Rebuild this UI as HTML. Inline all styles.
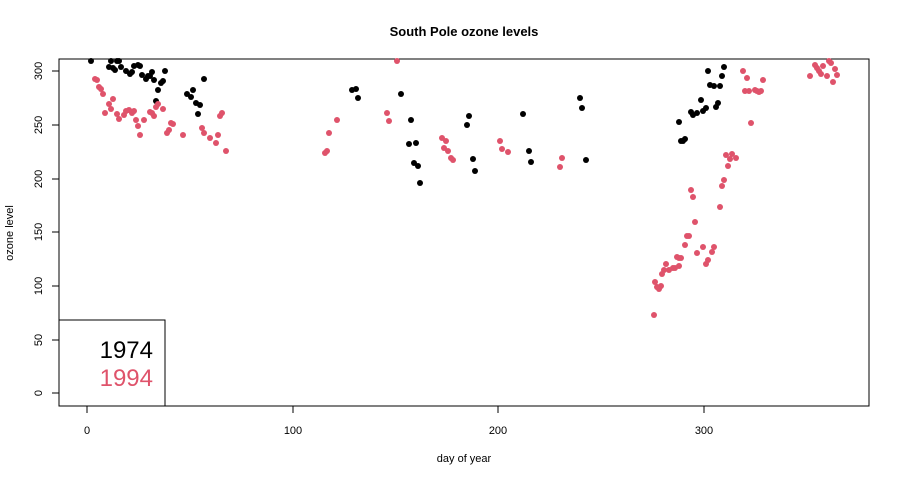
<!DOCTYPE html>
<html><head><style>body{margin:0;background:#fff}svg{display:block;font-family:"Liberation Sans",Arial,sans-serif}</style></head><body>
<svg width="900" height="480" xmlns="http://www.w3.org/2000/svg">
<text x="464" y="36" font-size="13" font-weight="bold" text-anchor="middle">South Pole ozone levels</text>
<rect x="59" y="59" width="810" height="347" fill="none" stroke="#000"/>
<g stroke="#000">
<line x1="87" y1="406" x2="87" y2="413"/><line x1="293" y1="406" x2="293" y2="413"/><line x1="498" y1="406" x2="498" y2="413"/><line x1="704" y1="406" x2="704" y2="413"/>
<line x1="52" y1="393" x2="59" y2="393"/><line x1="52" y1="340" x2="59" y2="340"/><line x1="52" y1="286" x2="59" y2="286"/><line x1="52" y1="232" x2="59" y2="232"/><line x1="52" y1="179" x2="59" y2="179"/><line x1="52" y1="125" x2="59" y2="125"/><line x1="52" y1="71" x2="59" y2="71"/>
</g>
<g font-size="11" text-anchor="middle">
<text x="87" y="434">0</text><text x="293" y="434">100</text><text x="498" y="434">200</text><text x="704" y="434">300</text>
<g transform="translate(42,393) rotate(-90)"><text>0</text></g>
<g transform="translate(42,340) rotate(-90)"><text>50</text></g>
<g transform="translate(42,286) rotate(-90)"><text>100</text></g>
<g transform="translate(42,232) rotate(-90)"><text>150</text></g>
<g transform="translate(42,179) rotate(-90)"><text>200</text></g>
<g transform="translate(42,125) rotate(-90)"><text>250</text></g>
<g transform="translate(42,71) rotate(-90)"><text>300</text></g>
<text x="464" y="462">day of year</text>
<g transform="translate(13,233) rotate(-90)"><text>ozone level</text></g>
</g>
<rect x="59" y="320" width="106" height="86" fill="#fff" stroke="#000"/>
<text x="153" y="358" font-size="24" text-anchor="end">1974</text>
<text x="153" y="386" font-size="24" text-anchor="end" fill="#DF536B">1994</text>
<g fill="#000">
<circle cx="91" cy="61" r="3"/><circle cx="111" cy="61" r="3"/><circle cx="117" cy="61" r="3"/><circle cx="119" cy="61" r="3"/><circle cx="109" cy="67" r="3"/><circle cx="113" cy="68" r="3"/><circle cx="115" cy="70" r="3"/><circle cx="121" cy="67" r="3"/><circle cx="126" cy="71" r="3"/><circle cx="130" cy="74" r="3"/><circle cx="132" cy="72" r="3"/><circle cx="134" cy="66" r="3"/><circle cx="138" cy="65" r="3"/><circle cx="140" cy="66" r="3"/><circle cx="142" cy="75" r="3"/><circle cx="146" cy="79" r="3"/><circle cx="148" cy="76" r="3"/><circle cx="150" cy="76" r="3"/><circle cx="152" cy="72" r="3"/><circle cx="154" cy="80" r="3"/><circle cx="165" cy="71" r="3"/><circle cx="161" cy="83" r="3"/><circle cx="163" cy="81" r="3"/><circle cx="158" cy="90" r="3"/><circle cx="156" cy="101" r="3"/><circle cx="204" cy="79" r="3"/><circle cx="193" cy="90" r="3"/><circle cx="187" cy="94" r="3"/><circle cx="191" cy="97" r="3"/><circle cx="196" cy="103" r="3"/><circle cx="200" cy="105" r="3"/><circle cx="198" cy="114" r="3"/>
<circle cx="352" cy="90" r="3"/><circle cx="356" cy="89" r="3"/><circle cx="358" cy="98" r="3"/><circle cx="401" cy="94" r="3"/><circle cx="411" cy="120" r="3"/><circle cx="409" cy="144" r="3"/><circle cx="416" cy="143" r="3"/><circle cx="414" cy="163" r="3"/><circle cx="418" cy="166" r="3"/><circle cx="420" cy="183" r="3"/><circle cx="469" cy="116" r="3"/><circle cx="467" cy="125" r="3"/><circle cx="473" cy="159" r="3"/><circle cx="475" cy="171" r="3"/><circle cx="523" cy="114" r="3"/><circle cx="529" cy="151" r="3"/><circle cx="531" cy="162" r="3"/><circle cx="580" cy="98" r="3"/><circle cx="582" cy="108" r="3"/><circle cx="586" cy="160" r="3"/>
<circle cx="708" cy="71" r="3"/><circle cx="724" cy="67" r="3"/><circle cx="722" cy="76" r="3"/><circle cx="710" cy="85" r="3"/><circle cx="714" cy="86" r="3"/><circle cx="720" cy="86" r="3"/><circle cx="701" cy="100" r="3"/><circle cx="718" cy="103" r="3"/><circle cx="716" cy="107" r="3"/><circle cx="706" cy="108" r="3"/><circle cx="703" cy="111" r="3"/><circle cx="691" cy="112" r="3"/><circle cx="693" cy="115" r="3"/><circle cx="697" cy="113" r="3"/><circle cx="679" cy="122" r="3"/><circle cx="681" cy="141" r="3"/><circle cx="683" cy="141" r="3"/><circle cx="685" cy="139" r="3"/>
</g>
<g fill="#DF536B">
<circle cx="95" cy="79" r="3"/><circle cx="97" cy="80" r="3"/><circle cx="99" cy="87" r="3"/><circle cx="101" cy="89" r="3"/><circle cx="103" cy="94" r="3"/><circle cx="113" cy="99" r="3"/><circle cx="109" cy="104" r="3"/><circle cx="111" cy="109" r="3"/><circle cx="105" cy="113" r="3"/><circle cx="117" cy="114" r="3"/><circle cx="119" cy="119" r="3"/><circle cx="124" cy="115" r="3"/><circle cx="126" cy="111" r="3"/><circle cx="129" cy="110" r="3"/><circle cx="132" cy="113" r="3"/><circle cx="134" cy="111" r="3"/><circle cx="136" cy="120" r="3"/><circle cx="138" cy="126" r="3"/><circle cx="140" cy="135" r="3"/><circle cx="144" cy="120" r="3"/><circle cx="150" cy="112" r="3"/><circle cx="152" cy="113" r="3"/><circle cx="154" cy="116" r="3"/><circle cx="156" cy="107" r="3"/><circle cx="158" cy="104" r="3"/><circle cx="163" cy="109" r="3"/><circle cx="171" cy="123" r="3"/><circle cx="173" cy="124" r="3"/><circle cx="169" cy="130" r="3"/><circle cx="167" cy="133" r="3"/><circle cx="183" cy="135" r="3"/><circle cx="202" cy="128" r="3"/><circle cx="204" cy="133" r="3"/><circle cx="210" cy="138" r="3"/><circle cx="216" cy="143" r="3"/><circle cx="218" cy="135" r="3"/><circle cx="220" cy="116" r="3"/><circle cx="222" cy="113" r="3"/><circle cx="226" cy="151" r="3"/>
<circle cx="325" cy="153" r="3"/><circle cx="327" cy="151" r="3"/><circle cx="329" cy="133" r="3"/><circle cx="337" cy="120" r="3"/><circle cx="387" cy="113" r="3"/><circle cx="389" cy="121" r="3"/><circle cx="397" cy="61" r="3"/><circle cx="442" cy="138" r="3"/><circle cx="446" cy="141" r="3"/><circle cx="444" cy="148" r="3"/><circle cx="448" cy="151" r="3"/><circle cx="451" cy="158" r="3"/><circle cx="453" cy="160" r="3"/><circle cx="500" cy="141" r="3"/><circle cx="502" cy="149" r="3"/><circle cx="508" cy="152" r="3"/><circle cx="560" cy="167" r="3"/><circle cx="562" cy="158" r="3"/>
<circle cx="743" cy="71" r="3"/><circle cx="747" cy="78" r="3"/><circle cx="745" cy="91" r="3"/><circle cx="749" cy="91" r="3"/><circle cx="755" cy="90" r="3"/><circle cx="757" cy="91" r="3"/><circle cx="759" cy="92" r="3"/><circle cx="761" cy="91" r="3"/><circle cx="763" cy="80" r="3"/><circle cx="751" cy="123" r="3"/><circle cx="815" cy="65" r="3"/><circle cx="817" cy="68" r="3"/><circle cx="819" cy="71" r="3"/><circle cx="821" cy="74" r="3"/><circle cx="810" cy="76" r="3"/><circle cx="823" cy="66" r="3"/><circle cx="827" cy="76" r="3"/><circle cx="829" cy="61" r="3"/><circle cx="831" cy="63" r="3"/><circle cx="835" cy="69" r="3"/><circle cx="837" cy="75" r="3"/><circle cx="833" cy="82" r="3"/>
<circle cx="726" cy="155" r="3"/><circle cx="732" cy="154" r="3"/><circle cx="730" cy="159" r="3"/><circle cx="736" cy="158" r="3"/><circle cx="728" cy="166" r="3"/><circle cx="724" cy="180" r="3"/><circle cx="722" cy="186" r="3"/><circle cx="720" cy="207" r="3"/><circle cx="691" cy="190" r="3"/><circle cx="693" cy="197" r="3"/><circle cx="695" cy="222" r="3"/><circle cx="687" cy="236" r="3"/><circle cx="689" cy="236" r="3"/><circle cx="685" cy="245" r="3"/><circle cx="703" cy="247" r="3"/><circle cx="714" cy="247" r="3"/><circle cx="697" cy="253" r="3"/><circle cx="712" cy="252" r="3"/><circle cx="708" cy="260" r="3"/><circle cx="706" cy="264" r="3"/><circle cx="677" cy="257" r="3"/><circle cx="679" cy="258" r="3"/><circle cx="681" cy="258" r="3"/><circle cx="666" cy="264" r="3"/><circle cx="679" cy="266" r="3"/><circle cx="675" cy="268" r="3"/><circle cx="673" cy="268" r="3"/><circle cx="669" cy="270" r="3"/><circle cx="664" cy="270" r="3"/><circle cx="662" cy="274" r="3"/><circle cx="661" cy="286" r="3"/><circle cx="659" cy="289" r="3"/><circle cx="657" cy="287" r="3"/><circle cx="655" cy="282" r="3"/><circle cx="654" cy="315" r="3"/>
</g>
</svg>
</body></html>
